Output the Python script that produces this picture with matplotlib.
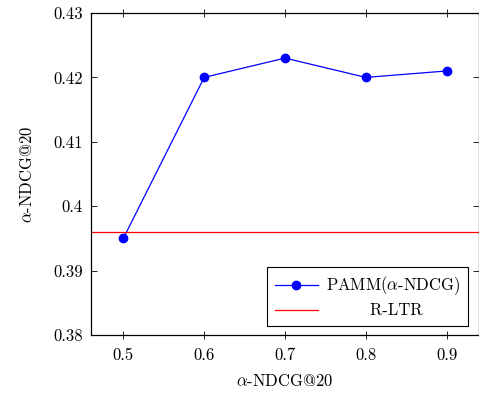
import matplotlib
matplotlib.use("Agg")
import matplotlib.pyplot as plt

plt.rcParams['font.family'] = ['cmr10', 'DejaVu Serif']
plt.rcParams['mathtext.fontset'] = 'cm'
plt.rcParams['axes.formatter.use_mathtext'] = True

x_vals = [0.5, 0.6, 0.7, 0.8, 0.9]
pamm = [0.395, 0.420, 0.423, 0.420, 0.421]
rltr = 0.396
x_ticks = [0.5, 0.6, 0.7, 0.8, 0.9]
y_ticks = [0.38, 0.39, 0.40, 0.41, 0.42, 0.43]
y_ticklabels = ['0.38', '0.39', '0.4', '0.41', '0.42', '0.43']

fig = plt.figure(figsize=(4.79, 3.93), dpi=100)
ax = fig.add_axes([91/479, (393-335)/393, (479-91)/479, (335-13)/393])

ax.plot(x_vals, pamm, color='#0000ff', lw=0.9, marker='o', markersize=6,
        label=r'PAMM($\alpha$-NDCG)')
ax.axhline(rltr, color='#ff0000', lw=0.9, label='        R-LTR')

ax.set_xlim(0.46, 0.94)
ax.set_ylim(0.38, 0.43)
ax.set_xticks(x_ticks)
ax.set_xticklabels([str(v) for v in x_ticks])
ax.set_yticks(y_ticks)
ax.set_yticklabels(y_ticklabels)
ax.tick_params(axis='x', direction='inout', length=6, width=0.6, top=True, labelsize=12, pad=6)
ax.tick_params(axis='y', direction='in', length=4, width=0.6, right=True, labelsize=12, pad=6)
for s in ax.spines.values():
    s.set_linewidth(0.9)

ax.set_xlabel(r'$\alpha$-NDCG@20', fontsize=12, labelpad=7)
ax.set_ylabel(r'$\alpha$-NDCG@20', fontsize=12, labelpad=13)

leg = ax.legend(loc='lower right', bbox_to_anchor=(0.972, 0.028), borderaxespad=0,
                fontsize=12, frameon=True, fancybox=False, edgecolor='black', framealpha=1,
                handlelength=2.6, borderpad=0.45, labelspacing=0.35, handletextpad=0.5)
leg.get_frame().set_linewidth(0.8)

fig.savefig('out.png', dpi=100)
